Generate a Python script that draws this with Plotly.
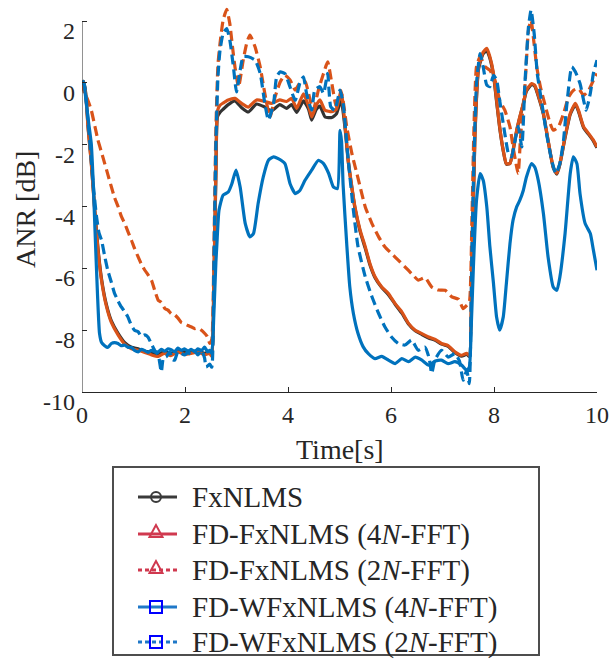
import plotly.graph_objects as go

# ---------------- data ----------------
t_fx = [0, 0.03, 0.07, 0.12, 0.18, 0.25, 0.31, 0.38, 0.47, 0.57, 0.70, 0.83, 0.96, 1.09, 1.22, 1.35, 1.48, 1.6, 1.73, 1.86, 1.99, 2.12, 2.25, 2.38, 2.48, 2.52,
        2.56, 2.6, 2.63, 2.68, 2.74, 2.84, 2.97, 3.1, 3.23, 3.39, 3.55, 3.68, 3.84, 3.97, 4.07, 4.17, 4.30, 4.4, 4.46, 4.55, 4.62, 4.72, 4.85, 4.94, 5.03,
        5.11, 5.17, 5.24, 5.30, 5.40, 5.50, 5.59, 5.69, 5.82, 5.95, 6.08, 6.21, 6.34, 6.47, 6.60, 6.73, 6.86, 6.98, 7.11, 7.24, 7.37, 7.47, 7.52,
        7.57, 7.63, 7.70, 7.79, 7.86, 7.92, 7.99, 8.05, 8.11, 8.18, 8.24, 8.31, 8.37, 8.44, 8.50, 8.57, 8.63, 8.73, 8.79, 8.86, 8.96, 9.05, 9.15, 9.22, 9.28, 9.38, 9.48, 9.58, 9.64, 9.74, 9.84, 9.93, 10.0]
v_fx = [-0.1, 0.05, -0.3, -1.45, -2.55, -4.15, -5.35, -6.35, -7.15, -7.7, -8.1, -8.4, -8.55, -8.6, -8.68, -8.72, -8.78, -8.7, -8.75, -8.65, -8.7, -8.72, -8.66, -8.75, -8.7, -8.8,
        -6.5, -3.0, -1.1, -0.95, -0.85, -0.7, -0.58, -0.8, -0.94, -0.68, -0.78, -0.9, -0.7, -0.82, -0.7, -0.95, -0.58, -0.85, -1.2, -0.85, -0.75, -1.1, -1.12, -1.0, -0.55,
        -1.5, -2.55, -3.4, -4.05, -4.8, -5.35, -5.88, -6.3, -6.62, -6.85, -7.16, -7.45, -7.8, -8.02, -8.14, -8.25, -8.33, -8.45, -8.52, -8.72, -8.84, -8.78, -8.85,
        -6.0, -1.7, 0.45, 0.95, 1.05, 0.8, 0.25, -0.6, -1.45, -2.2, -2.63, -2.6, -2.2, -1.55, -1.12, -0.68, -0.26, -0.06, -0.1, -0.43, -1.02, -1.87, -2.74, -2.95, -2.63, -1.77, -1.02, -0.7, -0.92, -1.45, -1.67, -1.88, -2.1]

t_fd4 = t_fx
v_fd4 = [-0.1, 0.05, -0.35, -1.5, -2.6, -4.2, -5.4, -6.4, -7.2, -7.75, -8.15, -8.45, -8.6, -8.65, -8.72, -8.8, -8.85, -8.75, -8.82, -8.7, -8.78, -8.75, -8.7, -8.8, -8.75, -8.85,
         -6.4, -2.8, -0.9, -0.72, -0.65, -0.55, -0.5, -0.66, -0.78, -0.55, -0.6, -0.66, -0.55, -0.6, -0.5, -0.82, -0.35, -0.75, -1.1, -0.72, -0.55, -0.88, -0.93, -0.85, -0.25,
         -1.42, -2.5, -3.36, -4.01, -4.76, -5.3, -5.84, -6.27, -6.6, -6.81, -7.14, -7.41, -7.78, -8.0, -8.11, -8.22, -8.3, -8.43, -8.5, -8.7, -8.81, -8.75, -8.82,
         -5.95, -1.64, 0.52, 1.0, 1.12, 0.85, 0.31, -0.56, -1.42, -2.18, -2.61, -2.61, -2.18, -1.53, -1.1, -0.66, -0.23, -0.02, -0.07, -0.4, -0.99, -1.85, -2.72, -2.93, -2.61, -1.74, -0.99, -0.66, -0.88, -1.42, -1.64, -1.85, -2.07]

t_fd2 = [0, 0.05, 0.1, 0.18, 0.25, 0.31, 0.38, 0.44, 0.5, 0.57, 0.63, 0.70, 0.76, 0.83, 0.89, 0.96, 1.02, 1.09, 1.15, 1.22, 1.28, 1.35, 1.41, 1.48, 1.54, 1.61, 1.67, 1.73, 1.80, 1.86, 1.93, 1.99, 2.06, 2.12, 2.19, 2.25, 2.32, 2.38, 2.43, 2.48, 2.52,
         2.56, 2.6, 2.64, 2.68, 2.74, 2.81, 2.87, 2.92, 2.97, 3.04, 3.13, 3.2, 3.26, 3.36, 3.46, 3.55, 3.65, 3.75, 3.85, 3.94, 4.04, 4.14, 4.23, 4.33, 4.43, 4.49, 4.59, 4.69, 4.77, 4.85, 4.94, 5.04,
         5.14, 5.24, 5.37, 5.50, 5.63, 5.76, 5.88, 6.01, 6.14, 6.27, 6.40, 6.53, 6.66, 6.79, 6.92, 7.05, 7.18, 7.31, 7.40, 7.47, 7.52,
         7.57, 7.61, 7.66, 7.73, 7.83, 7.92, 8.02, 8.11, 8.21, 8.31, 8.37, 8.44, 8.47, 8.51, 8.54, 8.60, 8.67, 8.72, 8.77, 8.83, 8.90, 9.0, 9.09, 9.15, 9.25, 9.35, 9.45, 9.55, 9.64, 9.74, 9.84, 9.93, 10.0]
v_fd2 = [0.0, -0.34, -0.5, -0.88, -1.4, -1.85, -2.25, -2.6, -2.95, -3.36, -3.7, -4.0, -4.3, -4.55, -4.8, -5.09, -5.35, -5.63, -5.85, -6.06, -6.2, -6.39, -6.7, -7.03, -7.1, -7.3, -7.35, -7.46, -7.5, -7.6, -7.75, -7.79, -7.85, -7.89, -7.95, -7.93, -8.0, -8.1, -8.2, -8.43, -8.3,
         -5.5, -1.5, 0.6, 1.28, 2.03, 2.38, 1.92, 1.2, 0.52, -0.13, 0.74, 1.3, 1.55, 1.17, 0.52, -0.34, -1.1, -0.45, 0.04, 0.25, 0.1, -0.23, 0.0, 0.05, -0.56, -0.88, -0.23, 0.31, 0.68, 0.0, -0.77, -0.34,
         -1.42, -2.28, -3.15, -4.01, -4.55, -4.98, -5.3, -5.52, -5.73, -5.95, -6.17, -6.38, -6.3, -6.6, -6.7, -6.71, -6.92, -7.0, -7.3, -7.2, -7.1,
         -4.5, -1.5, 0.52, 0.85, 0.52, 0.41, 0.09, -0.56, -0.88, -1.42, -2.07, -2.72, -2.93, -1.9, -1.2, -0.13, 1.71, 2.03, 1.39, 0.52, -0.12, -0.77, -1.31, -1.53, -1.42, -0.99, -0.45, -0.23, -0.18, -0.4, -0.23, 0.09, 0.31]

t_wf4 = [0, 0.03, 0.08, 0.13, 0.18, 0.22, 0.25, 0.30, 0.34, 0.38, 0.44, 0.5, 0.57, 0.63, 0.70, 0.76, 0.83, 0.89, 0.96, 1.02, 1.09, 1.15, 1.22, 1.28, 1.35, 1.41, 1.48, 1.54, 1.61, 1.67, 1.73, 1.80, 1.86, 1.93, 1.99, 2.06, 2.12, 2.19, 2.25, 2.32, 2.38, 2.44, 2.48, 2.52,
         2.56, 2.6, 2.62, 2.66, 2.74, 2.84, 2.91, 2.99, 3.07, 3.17, 3.26, 3.33, 3.42, 3.52, 3.62, 3.72, 3.81, 3.94, 4.04, 4.14, 4.23, 4.33, 4.46, 4.59, 4.69, 4.79, 4.88, 4.96, 5.01, 5.04,
         5.07, 5.14, 5.20, 5.27, 5.36, 5.46, 5.56, 5.69, 5.82, 5.95, 6.08, 6.21, 6.34, 6.47, 6.60, 6.73, 6.86, 6.98, 7.11, 7.24, 7.37, 7.47, 7.52,
         7.56, 7.60, 7.66, 7.73, 7.79, 7.86, 7.92, 7.99, 8.05, 8.11, 8.18, 8.24, 8.31, 8.37, 8.44, 8.50, 8.57, 8.63, 8.73, 8.79, 8.86, 8.96, 9.05, 9.15, 9.22, 9.28, 9.38, 9.48, 9.54, 9.61, 9.67, 9.77, 9.87, 9.93, 10.0]
v_wf4 = [-0.05, 0.05, -0.6, -1.3, -1.96, -3.3, -4.66, -6.8, -8.1, -8.4, -8.5, -8.56, -8.43, -8.4, -8.43, -8.5, -8.48, -8.55, -8.56, -8.65, -8.7, -8.62, -8.66, -8.72, -8.65, -8.7, -8.7, -8.62, -8.68, -8.6, -8.63, -8.7, -8.58, -8.65, -8.6, -8.68, -8.62, -8.7, -8.6, -8.66, -8.55, -8.7, -8.65, -8.75,
         -7.5, -5.8, -5.2, -4.12, -3.63, -3.53, -3.26, -2.82, -3.36, -4.55, -4.98, -4.87, -3.9, -3.04, -2.5, -2.39, -2.45, -2.61, -3.26, -3.58, -3.48, -3.15, -2.82, -2.5, -2.61, -2.93, -3.36, -3.42, -1.53, -1.9,
         -3.3, -5.2, -6.6, -7.46, -8.11, -8.54, -8.76, -8.92, -8.85, -8.97, -9.08, -8.92, -9.02, -8.87, -8.97, -9.13, -9.0, -8.97, -9.08, -9.02, -9.13, -9.3, -9.2,
         -7.8, -5.95, -3.8, -2.93, -3.15, -4.01, -5.3, -6.49, -7.57, -8.0, -7.57, -6.49, -5.2, -4.44, -4.01, -3.8, -3.47, -3.04, -2.61, -2.72, -3.15, -4.23, -5.63, -6.6, -6.71, -6.27, -4.87, -2.93, -2.39, -2.61, -3.58, -4.55, -4.87, -5.41, -6.06]

t_wf2 = [0, 0.04, 0.08, 0.12, 0.18, 0.23, 0.28, 0.33, 0.38, 0.44, 0.50, 0.57, 0.63, 0.70, 0.76, 0.83, 0.89, 0.96, 1.02, 1.09, 1.15, 1.22, 1.28, 1.35, 1.41, 1.48, 1.54, 1.58, 1.64, 1.70, 1.76, 1.80, 1.86, 1.93, 1.99, 2.06, 2.12, 2.19, 2.25, 2.32, 2.38, 2.41, 2.48, 2.52,
         2.56, 2.6, 2.64, 2.68, 2.74, 2.81, 2.87, 2.94, 3.0, 3.07, 3.13, 3.23, 3.36, 3.46, 3.55, 3.62, 3.72, 3.78, 3.85, 3.94, 4.04, 4.14, 4.23, 4.30, 4.36, 4.46, 4.52, 4.62, 4.69, 4.77, 4.83, 4.91, 5.01,
         5.07, 5.17, 5.27, 5.36, 5.50, 5.63, 5.76, 5.88, 6.01, 6.14, 6.27, 6.40, 6.53, 6.66, 6.74, 6.79, 6.85, 6.98, 7.11, 7.24, 7.33, 7.40, 7.47, 7.52,
         7.57, 7.61, 7.66, 7.73, 7.79, 7.86, 7.92, 7.99, 8.05, 8.11, 8.21, 8.28, 8.34, 8.41, 8.47, 8.54, 8.60, 8.67, 8.72, 8.78, 8.84, 8.93, 9.02, 9.12, 9.20, 9.28, 9.35, 9.41, 9.51, 9.58, 9.67, 9.74, 9.79, 9.87, 9.93, 10.0]
v_wf2 = [-0.05, 0.0, -0.5, -1.3, -2.5, -3.5, -4.3, -4.85, -5.09, -5.6, -6.06, -6.45, -6.8, -7.05, -7.24, -7.4, -7.57, -7.85, -8.0, -8.05, -8.2, -8.15, -8.22, -8.45, -8.65, -8.8, -9.35, -8.9, -8.85, -8.7, -8.95, -8.97, -8.7, -8.75, -8.8, -8.72, -8.8, -8.68, -8.8, -8.65, -8.9, -9.19, -9.1, -9.2,
         -6.0, -2.0, 0.2, 1.06, 1.6, 1.76, 1.39, 0.52, -0.29, 0.41, 0.85, 0.85, 0.74, 0.31, -0.66, -1.2, -0.66, 0.2, 0.36, 0.3, -0.13, -0.56, 0.0, 0.2, -0.34, -0.88, -0.23, -0.12, -0.34, 0.31, -0.77, -0.88, -0.23,
         -0.66, -2.5, -4.12, -5.3, -6.27, -6.92, -7.46, -7.89, -8.22, -8.43, -8.48, -8.32, -8.65, -8.55, -8.9, -9.4, -8.97, -8.65, -8.87, -8.76, -9.0, -9.62, -9.3, -9.73,
         -5.5, -2.5, -0.02, 0.95, 0.52, -0.07, -0.12, 0.25, 0.1, -0.56, -1.64, -2.28, -2.39, -1.85, -1.4, -2.07, -0.02, 1.82, 2.36, 1.6, 0.31, -0.66, -1.64, -2.5, -2.93, -2.6, -1.85, -0.77, 0.52, 0.36, -0.02, -0.56, -0.88, -0.34, 0.31, 0.74]

x_ticks = [0, 2, 4, 6, 8, 10]
y_ticks = [-10, -8, -6, -4, -2, 0, 2]
y_tick_text = ["-10", "-8", "-6", "-4", "-2", "0", "2"]

legend_names = ["FxNLMS", "FD-FxNLMS (4<i>N</i>-FFT)", "FD-FxNLMS (2<i>N</i>-FFT)",
                "FD-WFxNLMS (4<i>N</i>-FFT)", "FD-WFxNLMS (2<i>N</i>-FFT)"]

# ---------------- styles / layout ----------------
FONT = "Liberation Serif"
TXT = "#262626"
C_BLK = "#333333"
C_ORG = "#D95319"
C_BLU = "#0072BD"
DASH = "10px,5px"

W, H = 615, 668
ML, MR, MT, MB = 82, 18, 2, 276
PW, PH = W - ML - MR, H - MT - MB


def px(xp):
    return (xp - ML) / PW


def py(yp):
    return (MT + PH - yp) / PH


fig = go.Figure()

series = [
    (legend_names[0], t_fx, v_fx, C_BLK, "solid"),
    (legend_names[1], t_fd4, v_fd4, C_ORG, "solid"),
    (legend_names[2], t_fd2, v_fd2, C_ORG, DASH),
    (legend_names[3], t_wf4, v_wf4, C_BLU, "solid"),
    (legend_names[4], t_wf2, v_wf2, C_BLU, DASH),
]
for nm, tx, vy, col, dash in series:
    fig.add_trace(go.Scatter(x=tx, y=vy, mode="lines", name=nm, showlegend=False,
                             line=dict(color=col, width=3.2, dash=dash,
                                       shape="spline", smoothing=0.5)))

annotations = []
for val, txt in zip(y_ticks, y_tick_text):
    annotations.append(dict(x=0, y=val, xref="x", yref="y", text=txt, showarrow=False,
                            xanchor="right", yanchor="top", xshift=-5, yshift=5,
                            font=dict(family=FONT, size=24, color=TXT)))
annotations.append(dict(x=px(25), y=py(210), xref="paper", yref="paper", text="ANR [dB]",
                        showarrow=False, textangle=-90, xanchor="center", yanchor="middle",
                        font=dict(family=FONT, size=28, color=TXT)))
annotations.append(dict(x=px(340), y=py(450), xref="paper", yref="paper", text="Time[s]",
                        showarrow=False, xanchor="center", yanchor="middle",
                        font=dict(family=FONT, size=28, color=TXT)))

shapes = [
    dict(type="line", xref="x", yref="y", x0=0, x1=0, y0=-10, y1=2,
         line=dict(color=TXT, width=1)),
    dict(type="rect", xref="paper", yref="paper", x0=px(113), x1=px(539), y0=py(655), y1=py(467),
         line=dict(color="#4d4d4d", width=2), fillcolor="rgba(0,0,0,0)"),
]

# hand-built legend (box, sample lines, open markers, labels)
leg_y = [497, 534, 570, 607, 642]
leg_line = [("#3a3a3a", "solid"), ("#D0394F", "solid"), ("#D0394F", "4px,3px"),
            ("#1F78C8", "solid"), ("#1F78C8", "4px,3px")]
leg_mark = [("circle", "#3a3a3a"), ("triangle", "#D0394F"), ("triangle", "#D0394F"),
            ("square", "#0000FF"), ("square", "#0000FF")]
LX0, LX1, MX, TX0 = 138, 177, 156, 190
for yc, (lc, ld), (mk, mc), nm in zip(leg_y, leg_line, leg_mark, legend_names):
    shapes.append(dict(type="line", xref="paper", yref="paper", x0=px(LX0), x1=px(LX1),
                       y0=py(yc), y1=py(yc), line=dict(color=lc, width=3, dash=ld)))
    if mk == "circle":
        shapes.append(dict(type="circle", xref="paper", yref="paper",
                           x0=px(MX - 5), x1=px(MX + 5), y0=py(yc + 5), y1=py(yc - 5),
                           line=dict(color=mc, width=2), fillcolor="rgba(0,0,0,0)"))
    elif mk == "square":
        shapes.append(dict(type="rect", xref="paper", yref="paper",
                           x0=px(MX - 6), x1=px(MX + 6), y0=py(yc + 6), y1=py(yc - 6),
                           line=dict(color=mc, width=2), fillcolor="rgba(0,0,0,0)"))
    else:
        path = "M {:.5f},{:.5f} L {:.5f},{:.5f} L {:.5f},{:.5f} Z".format(
            px(MX), py(yc - 9), px(MX - 6.5), py(yc + 3), px(MX + 6.5), py(yc + 3))
        shapes.append(dict(type="path", xref="paper", yref="paper", path=path,
                           line=dict(color=mc, width=2), fillcolor="rgba(0,0,0,0)"))
    annotations.append(dict(x=px(TX0), y=py(yc), xref="paper", yref="paper", text=nm,
                            showarrow=False, xanchor="left", yanchor="middle",
                            font=dict(family=FONT, size=29, color=TXT)))

fig.update_layout(
    width=W, height=H,
    margin=dict(l=ML, r=MR, t=MT, b=MB),
    paper_bgcolor="white", plot_bgcolor="white",
    font=dict(family=FONT, color=TXT),
    showlegend=False,
    xaxis=dict(range=[0, 10], tickvals=x_ticks, ticks="inside", ticklen=5, tickcolor=TXT,
               showline=True, linecolor=TXT, linewidth=1, showgrid=False, zeroline=False,
               tickfont=dict(family=FONT, size=24, color=TXT), ticklabelstandoff=1),
    yaxis=dict(range=[-10, 2.62], tickvals=y_ticks, ticks="inside", ticklen=5, tickcolor=TXT,
               showline=False, showgrid=False, zeroline=False, showticklabels=False),
    annotations=annotations,
    shapes=shapes,
)

fig.write_html("out.html", config={"displayModeBar": False},
               post_script="document.body.style.margin='0px';document.body.style.overflow='hidden';")
